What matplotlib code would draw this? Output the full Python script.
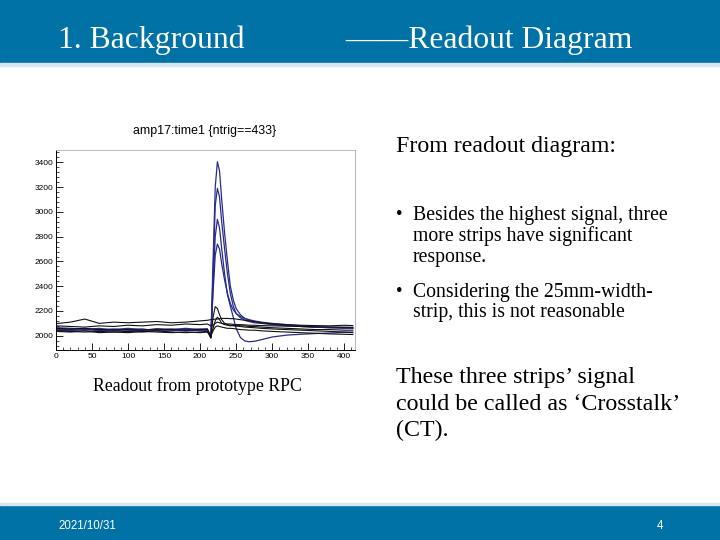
import numpy as np
import matplotlib.pyplot as plt
import matplotlib as mpl
from matplotlib.patches import Rectangle
from matplotlib.ticker import MultipleLocator

mpl.rcParams["figure.dpi"] = 100
SERIF = ["Liberation Serif", "DejaVu Serif"]
SANS = ["Liberation Sans", "DejaVu Sans"]
BAR_COLOR = "#0072A6"

# sample times (ns bins) shared by every waveform
TIME = [0, 20, 40, 60, 80, 100, 120, 140, 160, 180, 200, 210, 215, 218, 221, 224, 227,
        230, 234, 238, 242, 246, 250, 256, 262, 268, 275, 285, 300, 320, 340, 360, 380, 400, 412]

# strips with large signal (drawn blue)
AMP_MAIN = [2050, 2045, 2055, 2040, 2050, 2060, 2045, 2055, 2050, 2060, 2050, 2055, 1990, 2600, 3200, 3405, 3330,
            3100, 2830, 2600, 2400, 2290, 2220, 2170, 2140, 2125, 2115, 2105, 2095, 2085, 2075, 2070, 2065, 2060, 2060]
AMP_CT1 = [2065, 2060, 2050, 2060, 2045, 2055, 2050, 2045, 2055, 2045, 2055, 2050, 1985, 2500, 3050, 3190, 3120,
           2920, 2700, 2500, 2340, 2240, 2180, 2145, 2125, 2115, 2105, 2100, 2090, 2080, 2075, 2070, 2065, 2065, 2060]
AMP_CT2 = [2055, 2050, 2045, 2050, 2055, 2045, 2040, 2050, 2045, 2040, 2045, 2050, 1990, 2400, 2800, 2940, 2870,
           2700, 2500, 2330, 2240, 2150, 2060, 1985, 1958, 1952, 1955, 1968, 1990, 2005, 2012, 2018, 2022, 2028, 2030]
AMP_CT3 = [2045, 2040, 2055, 2045, 2040, 2050, 2055, 2040, 2040, 2050, 2040, 2045, 1995, 2350, 2650, 2740, 2700,
           2580, 2450, 2340, 2260, 2210, 2180, 2155, 2140, 2130, 2120, 2110, 2100, 2090, 2080, 2070, 2070, 2065, 2065]

# neighbouring strips (drawn black)
AMP_S1 = [2035, 2030, 2040, 2025, 2030, 2035, 2030, 2040, 2030, 2025, 2030, 2035, 1980, 2150, 2235, 2220, 2170,
          2130, 2100, 2090, 2085, 2080, 2078, 2075, 2070, 2068, 2065, 2060, 2055, 2050, 2045, 2040, 2035, 2030, 2025]
AMP_S2 = [2060, 2055, 2060, 2050, 2045, 2050, 2045, 2055, 2050, 2045, 2050, 2055, 2000, 2060, 2120, 2150, 2130,
          2100, 2090, 2085, 2080, 2085, 2085, 2080, 2080, 2075, 2075, 2070, 2065, 2060, 2055, 2050, 2050, 2045, 2045]
AMP_S3 = [2098, 2110, 2135, 2100, 2110, 2105, 2110, 2115, 2105, 2110, 2120, 2125, 2130, 2132, 2135, 2135, 2138,
          2140, 2140, 2140, 2138, 2138, 2135, 2130, 2125, 2120, 2115, 2105, 2095, 2090, 2085, 2082, 2080, 2085, 2082]
AMP_S4 = [2080, 2075, 2070, 2080, 2075, 2085, 2080, 2090, 2085, 2095, 2090, 2095, 2080, 2085, 2100, 2110, 2105,
          2100, 2098, 2095, 2095, 2092, 2090, 2090, 2088, 2085, 2085, 2082, 2080, 2078, 2075, 2072, 2070, 2070, 2068]
AMP_S5 = [2040, 2035, 2030, 2035, 2030, 2025, 2035, 2030, 2025, 2030, 2025, 2030, 2000, 2040, 2070, 2080, 2075,
          2070, 2065, 2060, 2060, 2058, 2055, 2050, 2048, 2045, 2045, 2040, 2035, 2030, 2025, 2020, 2015, 2012, 2010]

BLUE_TRACES = [AMP_MAIN, AMP_CT1, AMP_CT2, AMP_CT3]
BLACK_TRACES = [AMP_S1, AMP_S2, AMP_S3, AMP_S4, AMP_S5]

HEADER_LEFT = "1. Background"
HEADER_RIGHT = "\u2014\u2014Readout Diagram"
CHART_TITLE = "amp17:time1 {ntrig==433}"
CAPTION = "Readout from prototype RPC"
INTRO = "From readout diagram:"
BULLETS = [["Besides the highest signal, three", "more strips have significant", "response."],
           ["Considering the 25mm-width-", "strip, this is not reasonable"]]
CONCLUSION = ["These three strips\u2019 signal", "could be called as \u2018Crosstalk\u2019", "(CT)."]
FOOT_DATE = "2021/10/31"
FOOT_PAGE = "4"

W, H = 720, 540
fig = plt.figure(figsize=(W / 100, H / 100), dpi=100)
fig.patch.set_facecolor("white")


def fy(py):
    # pixel row -> figure fraction
    return 1 - py / H


def fx(px):
    return px / W


# header / footer bars
fig.patches.append(Rectangle((0, fy(63)), 1, 63 / H, transform=fig.transFigure, color=BAR_COLOR, zorder=0))
fig.patches.append(Rectangle((0, fy(66)), 1, 3 / H, transform=fig.transFigure, color="#d5e7f1", zorder=0))
fig.patches.append(Rectangle((0, 0), 1, 35 / H, transform=fig.transFigure, color=BAR_COLOR, zorder=0))
fig.patches.append(Rectangle((0, fy(505)), 1, 2 / H, transform=fig.transFigure, color="#d5e7f1", zorder=0))

fig.text(fx(58), fy(48), HEADER_LEFT, family=SERIF, fontsize=22.8, color="white", va="baseline")
fig.text(fx(345), fy(48), HEADER_RIGHT, family=SERIF, fontsize=22.8, color="white", va="baseline")
fig.text(fx(58), fy(526), FOOT_DATE, family=SANS, fontsize=8.3, color="white", va="center")
fig.text(fx(657), fy(526), FOOT_PAGE, family=SANS, fontsize=8.3, color="white", va="center")

# right-hand text
fig.text(fx(396), fy(152), INTRO, family=SERIF, fontsize=17.2, va="baseline")
baselines = [[220, 241.5, 262], [296.5, 316.5]]
for lines, rows in zip(BULLETS, baselines):
    fig.text(fx(396), fy(rows[0] - 1), "\u2022", family=SERIF, fontsize=13.5, va="baseline")
    for line, row in zip(lines, rows):
        fig.text(fx(413), fy(row), line, family=SERIF, fontsize=14.2, va="baseline")
for line, row in zip(CONCLUSION, [383.5, 410, 436]):
    fig.text(fx(396), fy(row), line, family=SERIF, fontsize=17.3, va="baseline")

fig.text(fx(197), fy(386), CAPTION, family=SERIF, fontsize=12.8, ha="center", va="center")

# waveform chart
ax = fig.add_axes([fx(56), fy(350), (355 - 56) / W, 200 / H])
for amp in BLUE_TRACES:
    ax.plot(TIME, amp, color="#2a2a8c", lw=0.9)
for amp in BLACK_TRACES:
    ax.plot(TIME, amp, color="#111111", lw=0.8)

ax.set_xlim(0, 415)
ax.set_ylim(1885, 3500)
ax.xaxis.set_major_locator(MultipleLocator(50))
ax.xaxis.set_minor_locator(MultipleLocator(10))
ax.yaxis.set_major_locator(MultipleLocator(200))
ax.yaxis.set_minor_locator(MultipleLocator(40))
ax.tick_params(axis="both", which="major", direction="in", length=5, width=0.6, labelsize=6, pad=2)
ax.tick_params(axis="both", which="minor", direction="in", length=2.5, width=0.5)
for lab in ax.get_xticklabels() + ax.get_yticklabels():
    lab.set_family(SANS)
for side in ["top", "right"]:
    ax.spines[side].set_color("#b0b0b0")
    ax.spines[side].set_linewidth(0.6)
for side in ["left", "bottom"]:
    ax.spines[side].set_linewidth(0.7)

fig.text(fx(205), fy(131), CHART_TITLE, family=SANS, fontsize=8.9, ha="center", va="center")

plt.savefig("out.png", dpi=100)
